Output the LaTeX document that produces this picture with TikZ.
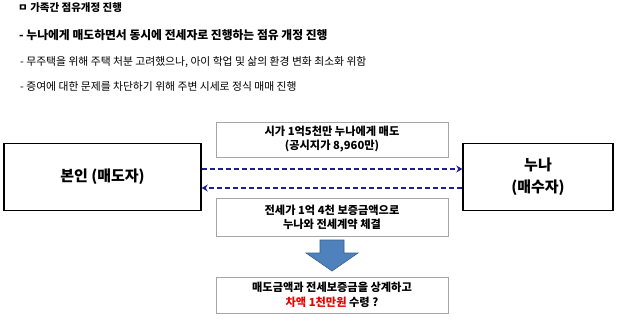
\documentclass[tikz,border=0pt]{standalone}
\usepackage{fontspec}
\setmainfont{Noto Sans CJK KR}
\usetikzlibrary{arrows.meta,positioning}
\definecolor{linkblue}{RGB}{30,30,150}
\definecolor{arrowfill}{RGB}{79,129,189}
\definecolor{arrowedge}{RGB}{56,93,138}
\definecolor{notegray}{RGB}{165,165,165}
\definecolor{diffred}{RGB}{235,0,0}

\begin{document}
\begin{tikzpicture}[x=1pt,y=-1pt,every node/.style={inner sep=0pt},
  bigbox/.style={draw,line width=1.4pt,minimum width=#1,minimum height=67pt,align=center,font=\fontsize{15}{22}\selectfont\bfseries},
  notebox/.style={draw=notegray,line width=0.6pt,minimum width=232pt,minimum height=36pt,align=center,font=\fontsize{11.2}{14}\selectfont\bfseries},
  deal/.style={linkblue,line width=1.3pt,dash pattern=on 5pt off 3pt,-{Stealth[length=6pt,width=7pt]}}]
  \useasboundingbox (0,0) rectangle (620,321);
  % 제목과 설명
  \node[anchor=west,font=\fontsize{10.5}{12}\selectfont\bfseries] (title) at (18,8) {ㅁ 가족간 점유개정 진행};
  \node[anchor=west,font=\fontsize{11.8}{14}\selectfont\bfseries] (point) at (19,35) {- 누나에게 매도하면서 동시에 전세자로 진행하는 점유 개정 진행};
  \node[anchor=west,font=\fontsize{10.8}{13}\selectfont] (reason) at (20,62) {- 무주택을 위해 주택 처분 고려했으나, 아이 학업 및 삶의 환경 변화 최소화 위함};
  \node[anchor=west,font=\fontsize{10.8}{13}\selectfont] (method) at (20,86) {- 증여에 대한 문제를 차단하기 위해 주변 시세로 정식 매매 진행};
  % 매도자와 매수자
  \node[bigbox=197pt] (seller) at (102.5,177) {본인 (매도자)};
  \node[bigbox=150pt] (buyer) at (538,177) {누나\\(매수자)};
  % 거래 내용
  \node[notebox,minimum height=35pt] (price) at (332,139.5) {시가 1억5천만 누나에게 매도\\(공시지가 8,960만)};
  \node[notebox,minimum height=38pt] (lease) at (332,217) {전세가 1억 4천 보증금액으로\\누나와 전세계약 체결};
  \node[notebox,font=\fontsize{11.2}{15.5}\selectfont\bfseries] (result) at (332,295) {매도금액과 전세보증금을 상계하고\\\textcolor{diffred}{차액 1천만원} 수령 ?};
  \draw[deal] ([yshift=8pt]seller.east) -- ([yshift=8pt]buyer.west);
  \draw[deal] ([yshift=-11pt]buyer.west) -- ([yshift=-11pt]seller.east);
  % 아래 화살표
  \filldraw[fill=arrowfill,draw=arrowedge,line width=0.6pt] (320,240) -- (344,240) -- (344,253) -- (358,253) -- (332,271) -- (306,253) -- (320,253) -- cycle;
\end{tikzpicture}
\end{document}
